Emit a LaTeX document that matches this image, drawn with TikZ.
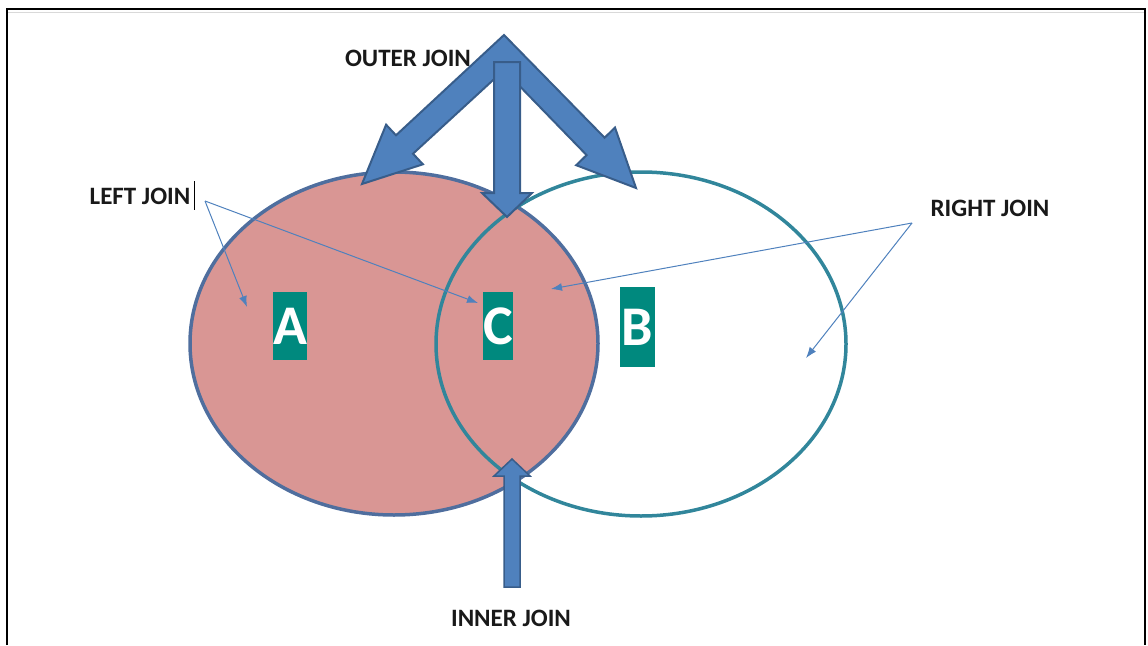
\documentclass[tikz,border=0pt]{standalone}
\usepackage{fontspec}
\setmainfont{Carlito}
\usetikzlibrary{arrows.meta}
\definecolor{pinkfill}{HTML}{D99694}
\definecolor{aedge}{HTML}{4F6E9E}
\definecolor{bedge}{HTML}{31869B}
\definecolor{boxteal}{HTML}{00897E}
\definecolor{blockfill}{HTML}{4F81BD}
\definecolor{blockedge}{HTML}{385D8A}
\definecolor{thinblue}{HTML}{4F81BD}
\begin{document}
\begin{tikzpicture}[x=1pt,y=-1pt,
  lbl/.style={font=\bfseries\fontsize{25}{28}\selectfont, text=black!90, inner sep=0pt},
  letterbox/.style={fill=boxteal, text=white, inner sep=0pt, font=\bfseries\fontsize{56}{56}\selectfont},
  block/.style={fill=blockfill, draw=blockedge, line width=2pt, line join=miter},
  thinarrow/.style={draw=thinblue, line width=1pt, -{Latex[length=11pt,width=8pt]}}
]
\useasboundingbox (0,0) rectangle (1148,645);
% frame
\draw[line width=2pt] (7,645) -- (7,9) -- (1145,9) -- (1145,645);
\draw[black!15, line width=1.5pt] (8,12.5) -- (1144,12.5);
% ellipses
\draw[fill=pinkfill, draw=aedge, line width=3.5pt] (394,343.5) ellipse [x radius=204, y radius=171.5];
\draw[draw=bedge, line width=3.5pt] (641,344) ellipse [x radius=205, y radius=172];
% letter boxes
\node[letterbox, minimum width=34pt, minimum height=68pt] (A) at (290,326) {A};
\node[letterbox, minimum width=30pt, minimum height=68pt] (C) at (498,326) {C};
\node[letterbox, minimum width=35pt, minimum height=80pt] (B) at (637.5,327) {B};
% labels
\node[lbl] (outer) at (408,58) {OUTER JOIN};
\node[lbl] (left) at (140,196) {LEFT JOIN};
\node[lbl] (right) at (990,208) {RIGHT JOIN};
\node[lbl] (inner) at (511,618) {INNER JOIN};
\draw[line width=1pt] (194,181) -- (194,210);
% thin arrows
\coordinate (lorig) at (205,201);
\coordinate (rorig) at (912,223);
\coordinate (la) at (247,307);
\coordinate (lc) at (478,303);
\coordinate (rc) at (551,289);
\coordinate (rb) at (806,358);
\draw[thinarrow] (lorig) -- (la);
\draw[thinarrow] (lorig) -- (lc);
\draw[thinarrow] (rorig) -- (rc);
\draw[thinarrow] (rorig) -- (rb);
% outer join chevron
\draw[block] (504,35) -- (604.6,137.7) -- (615,127.6) -- (636,188) -- (576.2,165.2) -- (586.6,155.1)
  -- (504,70) -- (413,153.7) -- (422.9,164.3) -- (362,184) -- (386.1,124.7) -- (396,135.3) -- cycle;
\draw[block] (494,62) -- (520,62) -- (520,193) -- (532,193) -- (507,217) -- (482,193) -- (494,193) -- cycle;
% inner join arrow
\draw[block, line width=1.5pt] (504,587) -- (520,587) -- (520,476) -- (530,476) -- (512,459) -- (494,476) -- (504,476) -- cycle;
\end{tikzpicture}
\end{document}
